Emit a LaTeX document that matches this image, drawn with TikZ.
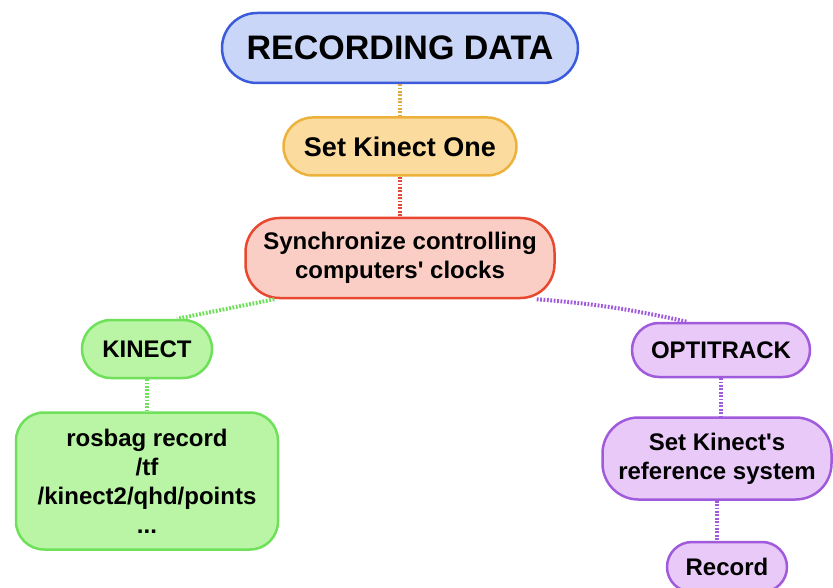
\documentclass[tikz,border=0pt]{standalone}
\usepackage{fontspec}
\setmainfont{Liberation Sans}
\usetikzlibrary{positioning}

\definecolor{blueline}{RGB}{59,91,219}
\definecolor{bluefill}{RGB}{201,214,247}
\definecolor{orangeline}{RGB}{236,178,60}
\definecolor{orangefill}{RGB}{252,219,158}
\definecolor{redline}{RGB}{232,72,48}
\definecolor{redfill}{RGB}{250,206,196}
\definecolor{greenline}{RGB}{110,224,90}
\definecolor{greenfill}{RGB}{186,245,166}
\definecolor{purpleline}{RGB}{160,90,220}
\definecolor{purplefill}{RGB}{233,201,247}

\begin{document}
\begin{tikzpicture}[x=1pt,y=-1pt]
      \path[use as bounding box] (0,0) rectangle (833,588);
      \begin{scope}[every node/.style={draw,line width=2.5pt,align=center,inner sep=0pt,
          font=\bfseries\fontsize{24}{29}\selectfont}]
        \node[draw=blueline,fill=bluefill,minimum width=356pt,minimum height=70pt,rounded corners=35pt,
          font=\bfseries\fontsize{34}{38}\selectfont] (rec) at (400,48) {RECORDING DATA};
        \node[draw=orangeline,fill=orangefill,minimum width=233pt,minimum height=58pt,rounded corners=29pt,
          font=\bfseries\fontsize{27}{30}\selectfont] (kone) [below=32pt of rec] {Set Kinect One};
        \node[draw=redline,fill=redfill,minimum width=309pt,minimum height=80pt,rounded corners=34pt]
          (sync) [below=40pt of kone] {Synchronize controlling\\computers\textquotesingle{} clocks};
        \node[draw=greenline,fill=greenfill,minimum width=130pt,minimum height=58pt,rounded corners=29pt]
          (kin) at (147,349) {KINECT};
        \node[draw=greenline,fill=greenfill,minimum width=262pt,minimum height=137pt,rounded corners=28pt]
          (bag) [below=32pt of kin] {rosbag record\\/tf\\/kinect2/qhd/points\\...};
        \node[draw=purpleline,fill=purplefill,minimum width=178pt,minimum height=54pt,rounded corners=27pt]
          (opti) at (721,350) {OPTITRACK};
        \node[draw=purpleline,fill=purplefill,minimum width=229pt,minimum height=82pt,rounded corners=36pt]
          (ref) [below=38pt of opti,xshift=-4pt] {Set Kinect\textquotesingle s\\reference system};
        \node[draw=purpleline,fill=purplefill,minimum width=120pt,minimum height=50pt,rounded corners=25pt]
          (rcd) [below=40pt of ref,xshift=10pt] {Record};
      \end{scope}
      \begin{scope}
        [every edge/.style={draw,line width=4pt,dash pattern=on 1.8pt off 1.6pt}]
        \path (rec) edge[draw=orangeline!80!brown] (kone);
        \path (kone) edge[draw=redline] (sync);
        \path ([xshift=30pt]sync.south west) edge[draw=greenline] ([xshift=30pt]kin.north);
        \path ([xshift=-19pt]sync.south east) edge[draw=purpleline,bend left=4] ([xshift=-34pt]opti.north);
        \path (kin) edge[draw=greenline] (kin|-bag.north);
        \path (opti) edge[draw=purpleline] (opti|-ref.north);
        \path (ref) edge[draw=purpleline] (ref|-rcd.north);
      \end{scope}
    \end{tikzpicture}
\end{document}
